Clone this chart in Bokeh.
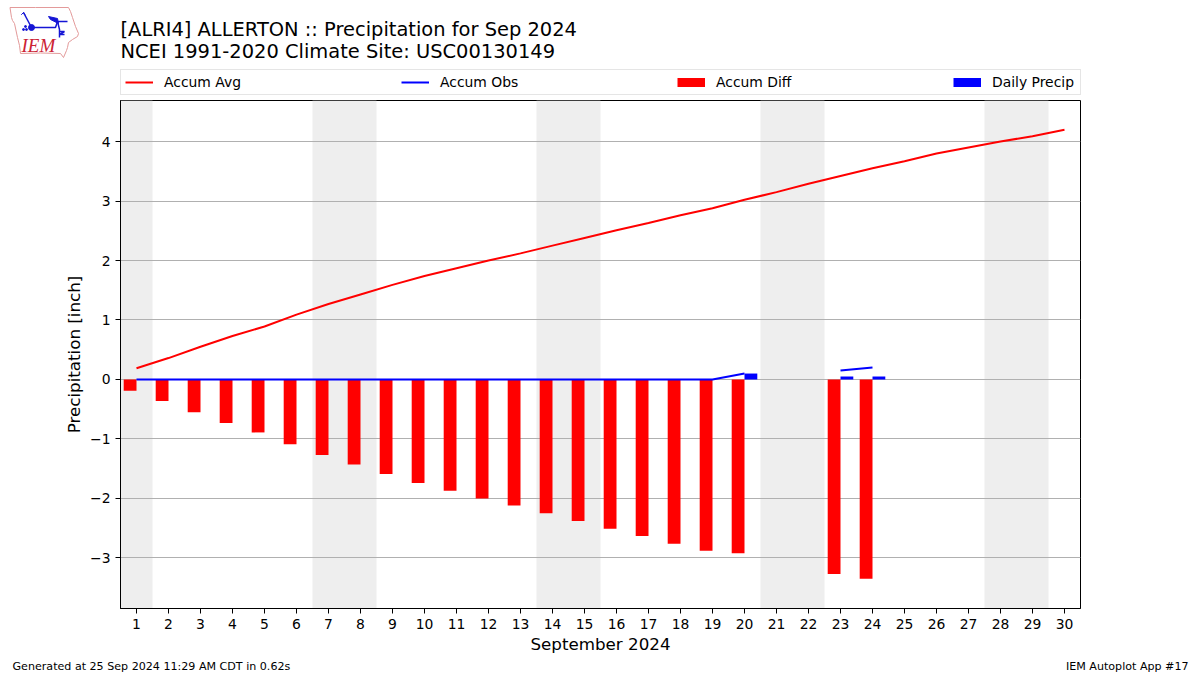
from bokeh.plotting import figure
from bokeh.embed import file_html
from bokeh.resources import INLINE
from bokeh.layouts import column
from bokeh.models import ColumnDataSource, Legend, LegendItem, Label, FixedTicker, Range1d

days = list(range(1, 31))
nan = float("nan")
accum_avg = [.19,.36,.55,.73,.89,1.09,1.27,1.43,1.59,1.74,1.87,2.0,2.12,2.25,2.38,2.51,2.63,2.76,2.88,3.02,
             3.15,3.29,3.42,3.55,3.67,3.80,3.90,4.0,4.09,4.20]
accum_obs = [0]*19 + [.10, nan, nan, .15, .20] + [nan]*6
accum_diff = [-.19,-.36,-.55,-.73,-.89,-1.09,-1.27,-1.43,-1.59,-1.74,-1.87,-2.0,-2.12,-2.25,-2.38,-2.51,-2.63,-2.76,-2.88,-2.92,
              nan,nan,-3.27,-3.35] + [nan]*6
daily = [0]*19 + [.10, nan, nan, .05, .05] + [nan]*6
weekend_starts = [0.5, 6.5, 13.5, 20.5, 27.5]
weekend_ends = [1.5, 8.5, 15.5, 22.5, 29.5]
y_ticks = [-3, -2, -1, 0, 1, 2, 3, 4]
title_lines = ["[ALRI4] ALLERTON :: Precipitation for Sep 2024", "NCEI 1991-2020 Climate Site: USC00130149"]
series_names = ["Accum Avg", "Accum Obs", "Accum Diff", "Daily Precip"]
footer_left = "Generated at 25 Sep 2024 11:29 AM CDT in 0.62s"
footer_right = "IEM Autoplot App #17"
FONT = "DejaVu Sans"
W = 1192
HEAD_H, MAIN_H, FOOT_H = 98, 562, 14


def blank(height, y_top):
    """Borderless strip whose data coordinates equal page pixels."""
    f = figure(width=W, height=height, output_backend="svg", toolbar_location=None,
               x_range=Range1d(0, W), y_range=Range1d(y_top + height, y_top),
               min_border=0, min_border_left=0, min_border_right=0, min_border_top=0, min_border_bottom=0)
    f.xaxis.visible = False
    f.yaxis.visible = False
    f.grid.visible = False
    f.outline_line_color = None
    f.frame_align = False
    return f


def label(f, text, x, y, size, align="left", color="black", font=FONT, style="normal"):
    f.add_layout(Label(x=x, y=y, text=text, text_font=font, text_font_size=size, text_align=align,
                       text_baseline="middle", text_color=color, text_font_style=style))


# ---------- header: logo, titles, legend ----------
head = blank(HEAD_H, 0)
label(head, title_lines[0], 120, 28.5, "19.44px")
label(head, title_lines[1], 120, 50.5, "19.44px")

blue = "#1515d5"
head.patch([9.5, 35, 68, 70, 72, 75, 78, 77, 72, 68, 67, 66, 63, 60, 40, 20, 19, 17, 14, 12, 11],
           [7, 7, 7, 11, 17, 26, 33, 36, 39, 42, 47, 50, 57, 53, 52.5, 53, 45, 37, 23, 20, 17],
           fill_color=None, line_color="#e39a9a", line_width=1)
head.line([31, 55, 57, 67], [27, 27, 21, 21], line_color=blue, line_width=1.5)
head.line([31, 23], [27, 12], line_color=blue, line_width=1.5)
head.line([23, 21, 23, 25], [12, 14, 12, 15], line_color=blue, line_width=1)
head.patch([48, 57, 58, 50], [16, 18, 23, 19], fill_color=blue, line_color=blue)
head.line([57, 59, 59], [21, 29, 37], line_color=blue, line_width=1.5)
head.line([59, 64, 59, 64], [31, 31, 34, 34], line_color=blue, line_width=1.5)
head.scatter([31], [27], size=6, marker="circle", fill_color=blue, line_color=blue)
head.scatter([23, 26, 25], [29, 29, 26], size=2, marker="circle", fill_color=blue, line_color=blue)
label(head, "IEM", 21, 45, "19px", color="#cc2233", font="Liberation Serif", style="italic")

# legend keys live outside the strip's visible range
k_avg = head.line([-100, -90], [-100, -100], line_color="#ff0000", line_width=2)
k_obs = head.line([-100, -90], [-100, -100], line_color="#0000ff", line_width=2)
k_diff = head.line([-100, -90], [-100, -100], line_color="#ff0000", line_width=9, line_cap="butt")
k_daily = head.line([-100, -90], [-100, -100], line_color="#0000ff", line_width=9, line_cap="butt")
legend = Legend(items=[LegendItem(label=n, renderers=[r]) for n, r in
                       zip(series_names, [k_avg, k_obs, k_diff, k_daily])],
                orientation="horizontal", location=(120, 3), spacing=153,
                glyph_width=28, glyph_height=10, label_text_font=FONT, label_text_font_size="13.9px",
                label_text_color="black", label_standoff=11, label_width=84, padding=4, margin=0,
                border_line_color="#cccccc", border_line_width=1,
                label_height=14, background_fill_alpha=1)
head.add_layout(legend, "center")

# ---------- main chart ----------
p = figure(width=W, height=MAIN_H, output_backend="svg", toolbar_location=None,
           x_range=Range1d(0.5, 30.5), y_range=Range1d(-3.85, 4.69),
           min_border_left=120, min_border_right=112, min_border_top=2, min_border_bottom=52,
           background_fill_color="white", border_fill_color="white")
p.frame_align = False
p.outline_line_color = "black"
p.outline_line_width = 1

src = ColumnDataSource(dict(x=days, avg=accum_avg, obs=accum_obs, diff=accum_diff, daily=daily,
                            xd=[d - 0.2 for d in days], xp=[d + 0.2 for d in days]))
p.quad(left=weekend_starts, right=weekend_ends, bottom=-3.85, top=4.69, fill_color="#eeeeee", line_color=None, level="underlay")
p.vbar(x="xd", top="diff", bottom=0, width=0.4, fill_color="#ff0000", line_color=None, source=src)
p.vbar(x="xp", top="daily", bottom=0, width=0.4, fill_color="#0000ff", line_color=None, source=src)
p.line("x", "avg", line_color="#ff0000", line_width=2, source=src)
p.line("x", "obs", line_color="#0000ff", line_width=2, source=src)

for ax in (p.xaxis[0], p.yaxis[0]):
    ax.axis_line_color = "black"
    ax.major_tick_line_color = "black"
    ax.major_tick_out = 5
    ax.major_tick_in = 0
    ax.minor_tick_line_color = None
    ax.major_label_text_font = FONT
    ax.major_label_text_font_size = "13.9px"
    ax.major_label_text_color = "black"
    ax.axis_label_text_font = FONT
    ax.axis_label_text_font_size = "16.7px"
    ax.axis_label_text_font_style = "normal"
    ax.axis_label_text_color = "black"

p.xaxis.ticker = FixedTicker(ticks=days)
p.yaxis.ticker = FixedTicker(ticks=y_ticks)
p.yaxis.major_label_overrides = {t: (str(t).replace("-", "\u2212")) for t in y_ticks}
p.xaxis.axis_label = "September 2024"
p.yaxis.axis_label = "Precipitation [inch]"
p.xaxis.axis_label_standoff = 2
p.yaxis.axis_label_standoff = 3
p.xgrid.visible = False
p.ygrid.grid_line_color = "#b0b0b0"
p.ygrid.grid_line_width = 1

# ---------- footer ----------
foot = blank(FOOT_H, 660)
label(foot, footer_left, 12, 666, "11.1px")
label(foot, footer_right, 1188, 666, "11.1px", align="right")

page = column(head, p, foot, spacing=0)
open("out.html", "w").write(file_html(page, INLINE))
